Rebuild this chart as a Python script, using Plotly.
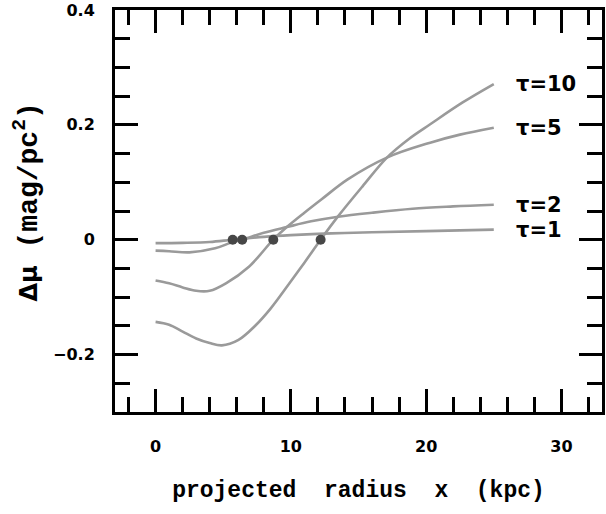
import plotly.graph_objects as go

# ---- data ----
tau_labels = ["τ=1", "τ=2", "τ=5", "τ=10"]

tau1_x = [0, 2, 4, 5.7, 8, 10, 13, 16, 20, 25]
tau1_y = [-0.006, -0.0055, -0.004, 0.0, 0.005, 0.008, 0.011, 0.013, 0.015, 0.0175]

tau2_x = [0, 1, 2.5, 4.4, 5.6, 6.4, 8, 9.7, 11.5, 13.5, 16, 19, 22, 25]
tau2_y = [-0.019, -0.020, -0.022, -0.015, -0.005, 0.0, 0.012, 0.022, 0.032, 0.040, 0.047, 0.054, 0.058, 0.061]

tau5_x = [0, 1, 2, 3, 4, 5.2, 6.9, 8.7, 9.7, 11, 12.25, 14.2, 17.1, 20.3, 22.5, 25]
tau5_y = [-0.071, -0.076, -0.083, -0.089, -0.089, -0.076, -0.047, 0.0, 0.022, 0.047, 0.070, 0.105, 0.143, 0.169, 0.183, 0.195]

tau10_x = [0, 1, 2, 3, 4, 4.9, 6.1, 7.4, 8.5, 9.8, 11, 12.2, 13.5, 15.3, 17.1, 18.7, 20.3, 22.7, 25]
tau10_y = [-0.143, -0.148, -0.160, -0.172, -0.180, -0.184, -0.175, -0.149, -0.120, -0.079, -0.040, 0.0, 0.041,
           0.093, 0.143, 0.175, 0.201, 0.239, 0.271]

cross_x = [5.7, 6.4, 8.7, 12.2]
cross_y = [0, 0, 0, 0]

x_ticks = [0, 10, 20, 30]
y_ticks = [-0.2, 0, 0.2, 0.4]
y_tick_text = ["−0.2", "0", "0.2", "0.4"]

series = [(tau1_x, tau1_y), (tau2_x, tau2_y), (tau5_x, tau5_y), (tau10_x, tau10_y)]

LINE = "#9a9a9a"
fig = go.Figure()
for (xs, ys), name in zip(series, tau_labels):
    fig.add_trace(go.Scatter(x=xs, y=ys, mode="lines", name=name,
                             line=dict(color=LINE, width=2.6, shape="spline", smoothing=1.0),
                             showlegend=False, hoverinfo="skip"))
fig.add_trace(go.Scatter(x=cross_x, y=cross_y, mode="markers",
                         marker=dict(color="#474747", size=10), showlegend=False))

for (xs, ys), name in zip(series, tau_labels):
    fig.add_annotation(x=26.5, y=ys[-1], text="<b>" + name + "</b>",
                       xanchor="left", yanchor="middle", showarrow=False,
                       font=dict(family="DejaVu Sans", size=21, color="black"))

# y-axis title (placed as a rotated annotation for exact positioning)
fig.add_annotation(xref="paper", yref="paper", x=-0.18, y=0.522, textangle=-90,
                   xanchor="center", yanchor="middle", showarrow=False,
                   text="<span style='font-family:DejaVu Sans;font-size:24px'>Δμ</span> (mag/pc<sup>2</sup>)",
                   font=dict(family="Liberation Mono", size=28, color="black", weight="bold"))

axis_common = dict(
    showline=True, linecolor="black", linewidth=3, mirror="ticks",
    ticks="inside", tickcolor="black", tickwidth=2.5, ticklen=23,
    showgrid=False, zeroline=False, ticklabeloverflow="allow",
    tickfont=dict(family="DejaVu Sans", size=16, color="black", weight="bold"),
)

fig.update_layout(
    width=606, height=514,
    margin=dict(l=115, r=1, t=10, b=102),
    paper_bgcolor="white", plot_bgcolor="white",
    xaxis=dict(range=[-3, 33], tickvals=x_ticks, ticktext=[str(v) for v in x_ticks],
               minor=dict(dtick=2, tick0=0, ticks="inside", ticklen=15, tickwidth=2.5, tickcolor="black", showgrid=False),
               ticklabelstandoff=18,
               title=dict(text="projected\u00a0 radius\u00a0 x\u00a0 (kpc)", standoff=26,
                          font=dict(family="Liberation Mono", size=23, color="black", weight="bold")),
               **axis_common),
    yaxis=dict(range=[-0.3, 0.4], tickvals=y_ticks, ticktext=y_tick_text,
               minor=dict(dtick=0.05, tick0=0, ticks="inside", ticklen=15, tickwidth=2.5, tickcolor="black", showgrid=False),
               ticklabelstandoff=14,
               **axis_common),
)

fig.write_html("out.html", config={"displayModeBar": False},
               post_script="document.body.style.margin='0';")
